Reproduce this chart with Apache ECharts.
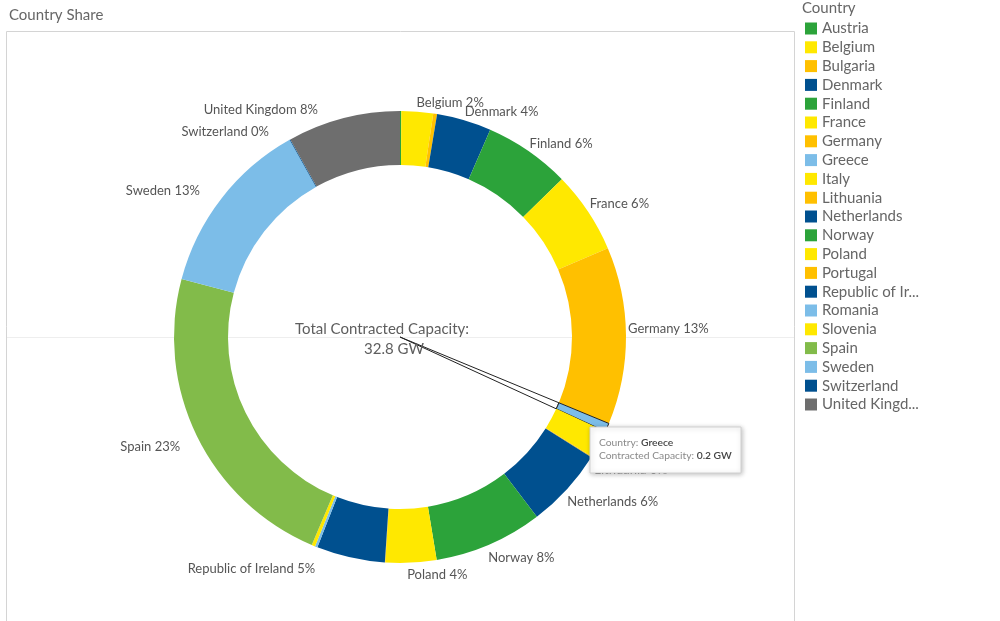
<!DOCTYPE html>
<html><head><meta charset="utf-8">
<style>html,body{margin:0;padding:0;background:#fff}#c{width:1000px;height:621px}</style>
<script src="https://cdn.jsdelivr.net/npm/echarts@6/dist/echarts.min.js"></script>
</head><body><div id="c"></div>
<script>
const countries = ['Austria','Belgium','Bulgaria','Denmark','Finland','France','Germany','Greece','Italy','Lithuania','Netherlands','Norway','Poland','Portugal','Republic of Ireland','Romania','Slovenia','Spain','Sweden','Switzerland','United Kingdom'];
const capacityGW = [0.03,0.74,0.09,1.28,2.02,1.92,4.15,0.2,0.66,0.02,1.87,2.54,1.19,0.01,1.60,0.06,0.08,7.45,4.17,0.02,2.64];
const labelled = ['Belgium','Denmark','Finland','France','Germany','Lithuania','Netherlands','Norway','Poland','Republic of Ireland','Spain','Sweden','Switzerland','United Kingdom'];
const G='#2ca33a',Y='#ffe800',O='#ffc000',B='#00508f',L='#7cbde8',S='#82bb4a',K='#6e6e6e';
const colors = [G,Y,O,B,G,Y,O,L,Y,O,B,G,Y,O,B,L,Y,S,L,B,K];
const labelNudge = {
  'Belgium':[-6,-7],'Denmark':[-5,-7],'Finland':[-5,-6],'France':[-5,-7],'Germany':[-5,-7],
  'Lithuania':[-4,12],'Netherlands':[-6,11],'Norway':[-7,11],'Poland':[-9,10],
  'Republic of Ireland':[-30,9],'Spain':[-10,10],'Sweden':[-15,-6],'Switzerland':[-15,-6],'United Kingdom':[-20,-6]
};
const total = capacityGW.reduce((a,b)=>a+b,0);
const font = 'Lato';
const chart = echarts.init(document.getElementById('c'),null,{renderer:'canvas'});
chart.setOption({
  animation:false,
  backgroundColor:'#fff',
  textStyle:{fontFamily:font},
  legend:{
    orient:'vertical',left:800,top:16,itemWidth:12,itemHeight:12,itemGap:3.8,icon:'rect',selectedMode:false,
    data:countries.map(c=>({name:c,itemStyle:{borderWidth:0}})),
    textStyle:{color:'#666',fontSize:15,fontFamily:font,width:102,overflow:'truncate',ellipsis:'...'}
  },
  series:[
    {type:'pie',z:3,center:[400,337],radius:[172,226],startAngle:90,avoidLabelOverlap:false,silent:true,
     label:{show:true,position:'outside',fontSize:13,fontFamily:font,color:'#555',
       formatter:p=>p.name+' '+Math.round(p.value/total*100)+'%'},
     labelLine:{show:false,length:2,length2:0},
     labelLayout:p=>{const n=labelNudge[p.text&&p.text.replace(/ \d+%$/,'')];return n?{dx:n[0],dy:n[1]}:{};},
     data:countries.map((c,i)=>({name:c,value:capacityGW[i],
       itemStyle:{color:colors[i],borderColor:c==='Greece'?'#222':undefined,borderWidth:c==='Greece'?1:0},
       label:{show:labelled.includes(c)}}))
    },
    {type:'pie',z:2,center:[400,337],radius:[0,172],startAngle:90,silent:true,label:{show:false},labelLine:{show:false},
     data:countries.map((c,i)=>({name:c,value:capacityGW[i],
       itemStyle:c==='Greece'?{color:'#fff',borderColor:'#222',borderWidth:1}:{color:'rgba(0,0,0,0)'}}))
    }
  ],
  graphic:[
    {type:'rect',z:0,shape:{x:6.5,y:31.5,width:788,height:600},style:{fill:'none',stroke:'#d4d4d4',lineWidth:1}},
    {type:'line',z:0,shape:{x1:7,y1:337.5,x2:794,y2:337.5},style:{stroke:'#eeeeee',lineWidth:1}},
    {type:'text',left:9,top:8,style:{text:'Country Share',fontSize:15,fontFamily:font,fill:'#666'}},
    {type:'text',left:802,top:1,style:{text:'Country',fontSize:15,fontFamily:font,fill:'#666'}},
    {type:'text',z:10,x:382,y:329,style:{text:'Total Contracted Capacity:',fontSize:15,fontFamily:font,fill:'#5e5e5e',align:'center',verticalAlign:'middle'}},
    {type:'text',z:10,x:394,y:349,style:{text:'32.8 GW',fontSize:15,fontFamily:font,fill:'#5e5e5e',align:'center',verticalAlign:'middle'}},
    {type:'rect',z:2000,zlevel:5,shape:{x:590,y:427,width:151,height:46},style:{fill:'#fff',stroke:'#d0d0d0',lineWidth:1,shadowBlur:5,shadowColor:'rgba(0,0,0,0.25)',shadowOffsetX:1,shadowOffsetY:1}},
    {type:'text',z:2001,zlevel:5,x:599,y:436,style:{
      text:'{a|Country: }{b|Greece}\n{a|Contracted Capacity: }{b|0.2 GW}',
      lineHeight:13,
      rich:{a:{fontSize:10.3,fontFamily:font,fill:'#8a8a8a',lineHeight:13},b:{fontSize:10.3,fontFamily:font,fill:'#444',fontWeight:600,lineHeight:13}}}}
  ]
});
</script></body></html>
